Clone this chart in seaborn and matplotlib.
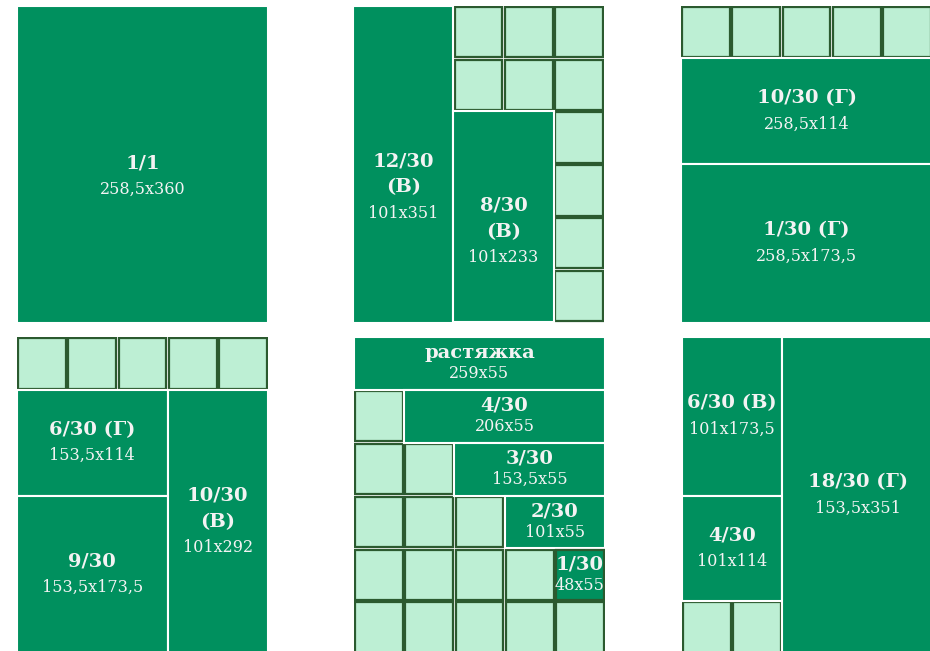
import matplotlib
matplotlib.use("Agg")
from matplotlib import pyplot as plt
import seaborn as sns

sns.set_theme(style="white")
plt.rcParams["font.family"] = ["DejaVu Serif", "DejaVu Sans"]

GREEN = "#00905E"
LIGHT = "#BDEFD4"
BORDER = "#2B5A2F"
TEXT = "#F3F3F3"

# each panel is a 5 x 6 grid of 1/30 cells
N_COLS, N_ROWS = 5, 6

# labelled tiles: panel index, bold label, size text, cell span
tile_panel = [0, 1, 1, 2, 2, 3, 3, 3, 4, 4, 4, 4, 4, 5, 5, 5]
tile_label = ["1/1", "12/30\n(В)", "8/30\n(В)", "10/30 (Г)", "1/30 (Г)",
              "6/30 (Г)", "9/30", "10/30\n(В)", "растяжка", "4/30", "3/30",
              "2/30", "1/30", "6/30 (В)", "4/30", "18/30 (Г)"]
tile_size = ["258,5x360", "101x351", "101x233", "258,5x114", "258,5x173,5",
             "153,5x114", "153,5x173,5", "101x292", "259x55", "206x55",
             "153,5x55", "101x55", "48x55", "101x173,5", "101x114",
             "153,5x351"]
tile_col = [0, 0, 2, 0, 0, 0, 0, 3, 0, 1, 2, 3, 4, 0, 0, 2]
tile_row = [0, 0, 2, 1, 3, 1, 3, 1, 0, 1, 2, 3, 4, 0, 3, 0]
tile_ncols = [5, 2, 2, 5, 5, 3, 3, 2, 5, 4, 3, 2, 1, 2, 2, 3]
tile_nrows = [6, 6, 4, 2, 3, 2, 3, 5, 1, 1, 1, 1, 1, 3, 2, 6]

# empty 1/30 cells
square_panel = [1] * 10 + [2] * 5 + [3] * 5 + [4] * 15 + [5] * 2
square_col = ([2, 3, 4, 2, 3, 4, 4, 4, 4, 4]
              + [0, 1, 2, 3, 4]
              + [0, 1, 2, 3, 4]
              + [0, 0, 1, 0, 1, 2, 0, 1, 2, 3, 0, 1, 2, 3, 4]
              + [0, 1])
square_row = ([0, 0, 0, 1, 1, 1, 2, 3, 4, 5]
              + [0, 0, 0, 0, 0]
              + [0, 0, 0, 0, 0]
              + [1, 2, 2, 3, 3, 3, 4, 4, 4, 4, 5, 5, 5, 5, 5]
              + [5, 5])

# layout in pixels
W, H = 930, 651
PW, PH = 251, 317
panel_origin = [(17, 5.5), (353, 5.5), (681, 5.5),
                (17, 337), (354, 337), (682, 337)]
text_nudge = {0: 12, 1: 23, 2: 15}
line_px = {4: 21}

fig = plt.figure(figsize=(W / 100, H / 100), dpi=100)
axes = []
for left, top in panel_origin:
    ax = fig.add_axes([left / W, 1 - (top + PH) / H, PW / W, PH / H])
    ax.set_xlim(0, N_COLS)
    ax.set_ylim(N_ROWS, 0)
    ax.set_axis_off()
    axes.append(ax)

cell_px = PH / N_ROWS
pad = 0.025

for p, c, r in zip(square_panel, square_col, square_row):
    axes[p].bar(c + pad, 1 - 2 * pad, width=1 - 2 * pad, bottom=r + pad,
                align="edge", color=LIGHT, edgecolor=BORDER, linewidth=1.6)

for i, p in enumerate(tile_panel):
    ax = axes[p]
    c, r = tile_col[i], tile_row[i]
    w, h = tile_ncols[i], tile_nrows[i]
    if w * h == 1:
        ax.bar(c + pad, 1 - 2 * pad, width=1 - 2 * pad, bottom=r + pad,
               align="edge", color=GREEN, edgecolor=BORDER, linewidth=1.6)
    else:
        ax.bar(c, h, width=w, bottom=r, align="edge", color=GREEN,
               edgecolor="white", linewidth=1.5)

    bold_lines = tile_label[i].split("\n")
    lines = [(t, "bold", 14) for t in bold_lines] + [(tile_size[i], "normal", 11.5)]
    step = line_px.get(p, 26) / cell_px
    cy = r + h / 2 + text_nudge.get(i, 0) / cell_px
    cx = c + w / 2
    n = len(lines)
    for k, (txt, weight, size) in enumerate(lines):
        ax.text(cx, cy + (k - (n - 1) / 2) * step, txt, ha="center",
                va="center", color=TEXT, fontsize=size, fontweight=weight)

fig.savefig("out.png", dpi=100)
